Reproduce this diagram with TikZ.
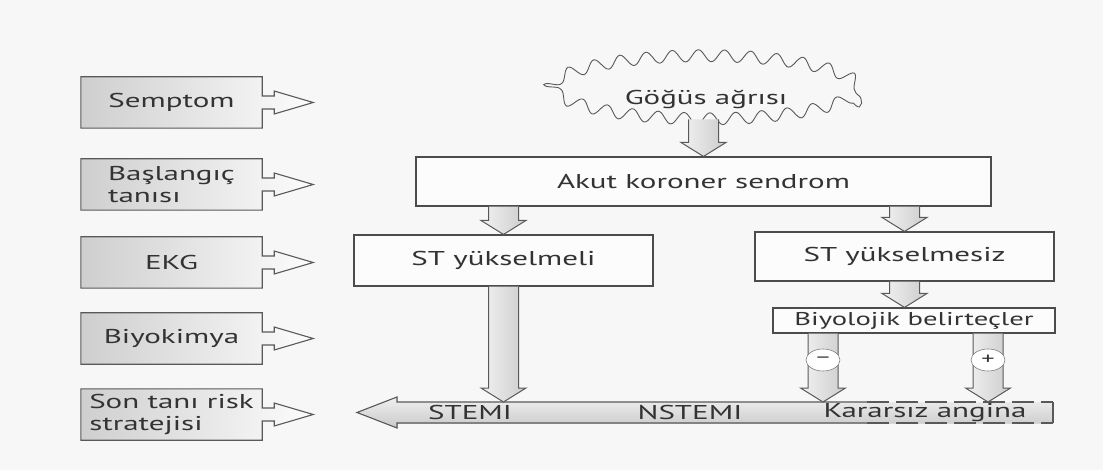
\documentclass[tikz,border=0pt]{standalone}
\usepackage{fontspec}
\setmainfont[FakeStretch=1.55]{PT Sans}
\usetikzlibrary{calc,decorations.pathmorphing,shapes.geometric,backgrounds}
\newcommand{\callout}[1]{%
  \draw[lborder] (#1.north west) -- (#1.north east) -- ($(#1.east)+(0,-6.5)$) -- ++(12,0) -- ++(0,-5)
    -- ($(#1.east)+(51,0)$) -- ($(#1.east)+(12,11.5)$) -- ++(0,-5) -- ($(#1.east)+(0,6.5)$)
    -- (#1.south east) -- (#1.south west) -- cycle;}
\newcommand{\blockdown}[2]{%
  \draw[barrow] let \p1=#1, \p2=#2 in
    (\x2-15pt,\y1) -- (\x2-15pt,\y2+14pt) -- (\x2-22.5pt,\y2+14pt) -- (\x2,\y2)
    -- (\x2+22.5pt,\y2+14pt) -- (\x2+15pt,\y2+14pt) -- (\x2+15pt,\y1);}
\begin{document}
\begin{tikzpicture}[x=1pt,y=-1pt,
  every node/.style={font=\fontsize{20}{22}\selectfont, text=black!80},
  lbox/.style={minimum width=181, minimum height=51, align=left, inner sep=0pt},
  lborder/.style={draw=black!65, line width=1.1pt, left color=gray!38, right color=gray!2},
  mbox/.style={draw=black!70, line width=1.1pt, fill=gray!2, inner sep=0pt},
  barrow/.style={draw=black!65, line width=1pt, left color=gray!10, right color=gray!40},
  lline/.style={draw=black!65, line width=1.1pt},
  circ/.style={ellipse, draw=black!50, line width=0.6pt, fill=white, minimum width=34, minimum height=22, inner sep=0pt, font=\fontsize{17}{17}\selectfont}]
\useasboundingbox (0,0) rectangle (1103,470);
% left column
\node[lbox] (sem) at (171.5,102.5) {Semptom};
\node[lbox] (bas) at (171.5,184.5) {Başlangıç\\tanısı};
\node[lbox] (ekg) at (171.5,262.5) {EKG};
\node[lbox] (bio) at (171.5,338.5) {Biyokimya};
\node[lbox] (son) at (171.5,414.5) {Son tanı risk\\stratejisi};
\begin{scope}[on background layer]
  \fill[gray!6] (0,0) rectangle (1103,470);
  \callout{sem}
  \callout{bas}
  \callout{ekg}
  \callout{bio}
  \callout{son}
\end{scope}
% main nodes
\node[draw=black!65, line width=0.9pt, ellipse, minimum width=310, minimum height=68,
  decorate, decoration={snake, amplitude=6pt, segment length=26pt}] (cloud) at (706,99) {Göğüs ağrısı};
\node[mbox, minimum width=575, minimum height=49] (akut) at (703.5,181.5) {Akut koroner sendrom};
\node[mbox, minimum width=299, minimum height=51] (stel) at (503.5,260.5) {ST yükselmeli};
\node[mbox, minimum width=299, minimum height=49] (stez) at (904.5,256.5) {ST yükselmesiz};
\node[mbox, minimum width=282, minimum height=25, font=\fontsize{18.5}{20}\selectfont] (biyo) at (914,320.5) {Biyolojik belirteçler};
% long arrow
\coordinate (lat) at (1053,402);
\coordinate (lab) at (1053,423);
\coordinate (ltip) at (357,412.5);
\coordinate (ldt) at (867,402);
\coordinate (ldb) at (867,423);
\fill[top color=gray!12, bottom color=gray!42] (lat) -- (397,402) -- (397,397) -- (ltip) -- (397,428) -- (397,423) -- (lab) -- cycle;
\draw[lline] (ldt) -- (397,402) -- (397,397) -- (ltip) -- (397,428) -- (397,423) -- (ldb);
\draw[lline, dash pattern=on 22pt off 7pt] (ldt) -- (lat);
\draw[lline, dash pattern=on 22pt off 7pt] (ldb) -- (lab);
\draw[lline] (lat) -- (lab);
% vertical block arrows
\blockdown{($(akut.north |- cloud.south)+(0,-14)$)}{(akut.north)}
\blockdown{(stel.north |- akut.south)}{(stel.north)}
\blockdown{(stez.north |- akut.south)}{(stez.north)}
\blockdown{(stez.south)}{(stez.south |- biyo.north)}
\blockdown{(stel.south)}{(stel.south |- lat)}
\coordinate (mc) at (823,360);
\coordinate (pc) at (988,360);
\blockdown{(mc |- biyo.south)}{(mc |- lat)}
\blockdown{(pc |- biyo.south)}{(pc |- lat)}
\node[circ] (minus) at (mc) {–};
\node[circ] (plus) at (pc) {+};
% labels on long arrow
\node (stemi) at (470,412.5) {STEMI};
\node (nstemi) at (690,412.5) {NSTEMI};
\node (kararsiz) at (925,412.5) {Kararsız angina};
\end{tikzpicture}
\end{document}
